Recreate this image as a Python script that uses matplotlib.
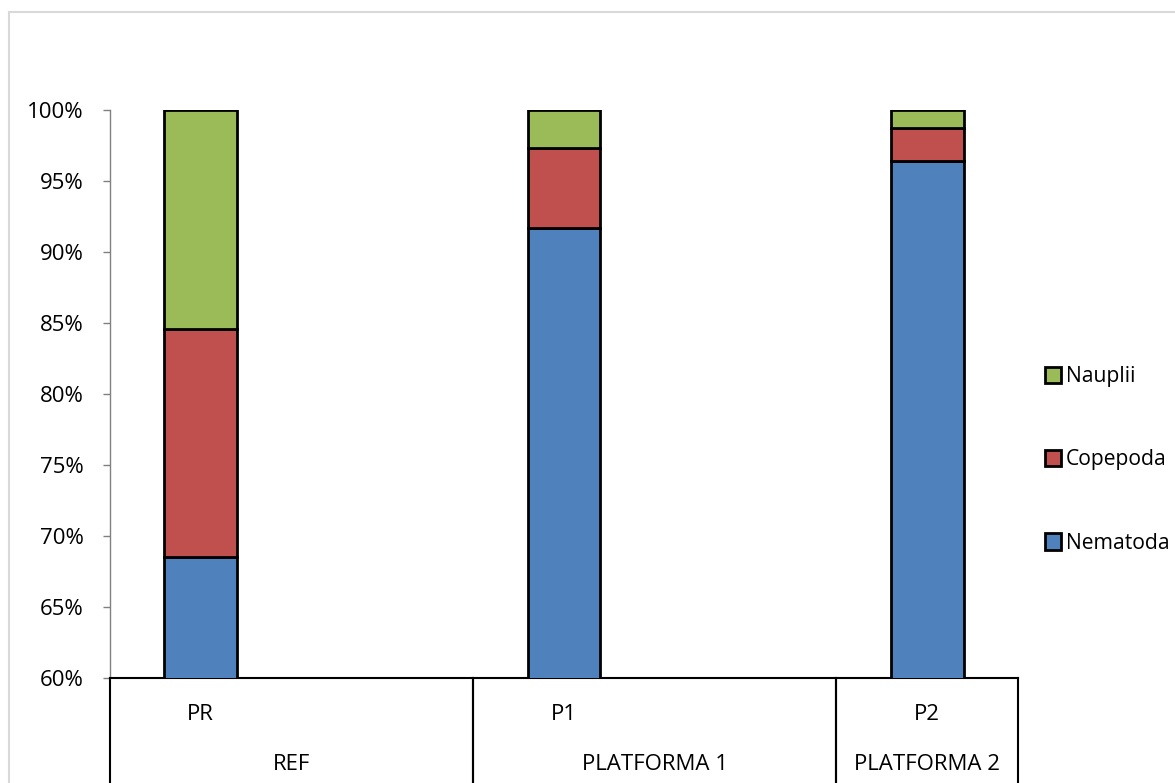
import matplotlib
matplotlib.use("Agg")
import matplotlib.pyplot as plt
from matplotlib.patches import Rectangle
from matplotlib.lines import Line2D
from matplotlib.ticker import PercentFormatter

plt.rcParams['font.family'] = ['Open Sans', 'DejaVu Sans']

# Stations (inner labels) and their groups (outer labels)
stations = ["PR", "P1", "P2"]
groups = ["REF", "PLATFORMA 1", "PLATFORMA 2"]
# Category slot index of each station on the 5-slot axis
slots = [0, 2, 4]
# Group spans on the category axis (start slot, end slot)
group_spans = [(0, 2), (2, 4), (4, 5)]

# Relative abundance (%) per taxon
nematoda = [68.5, 91.7, 96.4]
copepoda = [16.1, 5.6, 2.3]
nauplii = [15.4, 2.7, 1.3]

colors = {"Nematoda": "#4F81BD", "Copepoda": "#C0504D", "Nauplii": "#9BBB59"}
FS = 16

W, H = 1175, 783
fig = plt.figure(figsize=(W / 100, H / 100), dpi=100)
fig.patch.set_facecolor("white")

# light outer frame
fig.add_artist(Line2D([9 / W, 9 / W], [0, 1 - 12 / H], color="#D9D9D9", lw=1.5,
                      transform=fig.transFigure))
fig.add_artist(Line2D([9 / W, 1], [1 - 12 / H, 1 - 12 / H], color="#D9D9D9", lw=1.5,
                      transform=fig.transFigure))

x0, x1 = 110, 1018
y_top, y_bot = 110, 678
ax = fig.add_axes([x0 / W, (H - y_bot) / H, (x1 - x0) / W, (y_bot - y_top) / H])

width = 0.4
bottom = [0, 0, 0]
series = [("Nematoda", nematoda), ("Copepoda", copepoda), ("Nauplii", nauplii)]
for name, vals in series:
    ax.bar(slots, vals, width=width, bottom=bottom, color=colors[name],
           edgecolor="black", linewidth=2.0, label=name, zorder=3)
    bottom = [b + v for b, v in zip(bottom, vals)]

ax.set_xlim(-0.5, 4.5)
ax.set_ylim(60, 100)
ax.set_yticks(range(60, 101, 5))
ax.yaxis.set_major_formatter(PercentFormatter(decimals=0))
ax.tick_params(axis="y", direction="out", length=5, width=1, color="#808080",
               labelsize=FS, pad=14)
ax.set_xticks([])

for s in ["top", "right"]:
    ax.spines[s].set_visible(False)
ax.spines["left"].set_color("#808080")
ax.spines["left"].set_linewidth(1)
ax.spines["bottom"].set_color("black")
ax.spines["bottom"].set_linewidth(1.5)

# two-level category axis below the plot
trans = ax.get_xaxis_transform()
ax_h_px = y_bot - y_top
def yfrac(py):
    return (y_bot - py) / ax_h_px

for (a, b), g in zip(group_spans, groups):
    for edge in (a, b):
        ax.add_line(Line2D([edge - 0.5, edge - 0.5], [0, yfrac(H + 5)], color="black",
                           lw=1.5, transform=trans, clip_on=False))
    ax.text((a + b) / 2 - 0.5, yfrac(764), g, transform=trans, ha="center",
            va="center", fontsize=FS)

for s, st in zip(slots, stations):
    ax.text(s, yfrac(714), st, transform=trans, ha="center", va="center",
            fontsize=FS)

handles = [Rectangle((0, 0), 1, 1, facecolor=colors[n], edgecolor="black", lw=2)
           for n in ["Nauplii", "Copepoda", "Nematoda"]]
fig.legend(handles, ["Nauplii", "Copepoda", "Nematoda"], loc="center left",
           bbox_to_anchor=(1034 / W, 1 - 460 / H), frameon=False,
           fontsize=15.2, handlelength=0.8, handleheight=0.8,
           handletextpad=0.2, labelspacing=2.95, borderpad=0)

fig.savefig("out.png", dpi=100, facecolor="white")
